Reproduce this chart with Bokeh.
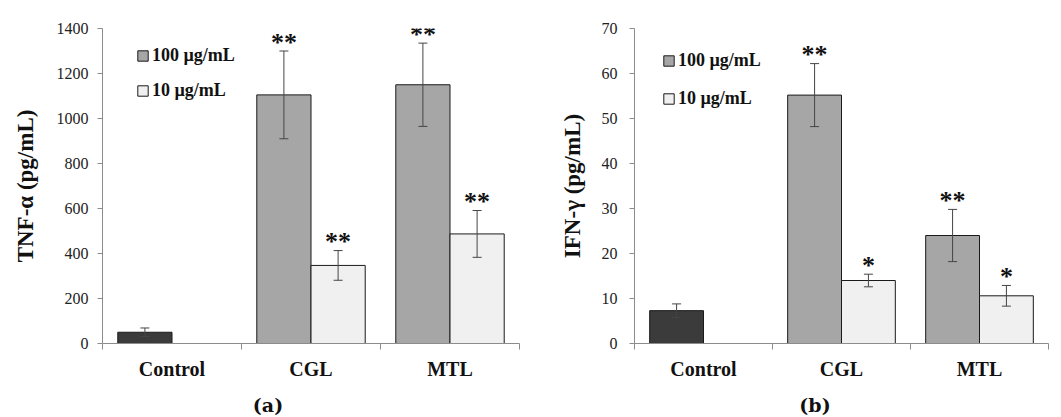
from bokeh.plotting import figure
from bokeh.models import (ColumnDataSource, Range1d, LinearAxis, FixedTicker, Whisker, TeeHead,
                          Legend, LegendItem, Div, Spacer)
from bokeh.core.properties import value
from bokeh.layouts import row, column
from bokeh.embed import file_html
from bokeh.resources import INLINE

# ---------------- data ----------------
categories = ["Control", "CGL", "MTL"]
treated = ["CGL", "MTL"]
series_labels = ["100 \u00b5g/mL", "10 \u00b5g/mL"]

tnf_control = [50]
tnf_control_err = [19]
tnf_100 = [1105, 1150]
tnf_100_err = [195, 185]
tnf_10 = [347, 487]
tnf_10_err = [66, 104]
tnf_100_sig = ["**", "**"]
tnf_10_sig = ["**", "**"]
tnf_ticks = [0, 200, 400, 600, 800, 1000, 1200, 1400]

ifn_control = [7.3]
ifn_control_err = [1.5]
ifn_100 = [55.2, 24.0]
ifn_100_err = [7.0, 5.8]
ifn_10 = [14.0, 10.6]
ifn_10_err = [1.4, 2.3]
ifn_100_sig = ["**", "**"]
ifn_10_sig = ["*", "*"]
ifn_ticks = [0, 10, 20, 30, 40, 50, 60, 70]

captions = ["(a)", "(b)"]

SERIF = "Liberation Serif"
AXIS_GRAY = "#8c8c8c"
BAR_W = 0.39
OFF = 0.195
cat_index = {c: i for i, c in enumerate(categories)}


def src(cats, vals, errs, off, sig=None):
    d = dict(cat=cats, x=[cat_index[c] + 0.5 + off for c in cats], val=vals,
             upper=[v + e for v, e in zip(vals, errs)],
             lower=[v - e for v, e in zip(vals, errs)])
    d["sig"] = sig if sig is not None else [""] * len(cats)
    return ColumnDataSource(d)


def panel(width, height, borders, ymax, ticks, ylabel, ylabel_standoff, tick_standoff,
          ctrl, ctrl_err, v100, e100, s100, v10, e10, s10,
          legend_xy, legend_spacing):
    bl, br, bt, bb = borders
    p = figure(width=width, height=height, x_range=Range1d(0, len(categories)),
               y_range=Range1d(0, ymax),
               output_backend="svg", toolbar_location=None, tools="",
               x_axis_location=None, y_axis_location=None,
               min_border_left=bl, min_border_right=br, min_border_top=bt, min_border_bottom=bb)
    p.outline_line_color = None
    p.xgrid.visible = False
    p.ygrid.visible = False
    p.background_fill_color = "white"
    p.border_fill_color = "white"

    # y axis
    yax = LinearAxis(ticker=FixedTicker(ticks=ticks), axis_label=ylabel)
    yax.axis_line_color = AXIS_GRAY
    yax.major_tick_line_color = AXIS_GRAY
    yax.major_tick_out = 5
    yax.major_tick_in = 0
    yax.minor_tick_line_color = None
    yax.major_label_text_font = SERIF
    yax.major_label_text_font_size = "16px"
    yax.major_label_text_color = "#222222"
    yax.major_label_standoff = tick_standoff
    yax.axis_label_text_font = SERIF
    yax.axis_label_text_font_style = "bold"
    yax.axis_label_text_font_size = "23px"
    yax.axis_label_text_color = "#111111"
    yax.axis_label_standoff = ylabel_standoff
    p.add_layout(yax, "left")

    # x axis: labels at category centres, ticks at category boundaries
    centers = [i + 0.5 for i in range(len(categories))]
    bounds = list(range(len(categories) + 1))
    cax = LinearAxis(ticker=FixedTicker(ticks=centers, minor_ticks=bounds),
                     major_label_overrides={c: n for c, n in zip(centers, categories)})
    cax.axis_line_color = AXIS_GRAY
    cax.major_tick_line_color = None
    cax.major_tick_out = 0
    cax.major_tick_in = 0
    cax.minor_tick_line_color = AXIS_GRAY
    cax.minor_tick_out = 6
    cax.minor_tick_in = 0
    cax.major_label_text_font = SERIF
    cax.major_label_text_font_style = "bold"
    cax.major_label_text_font_size = "20px"
    cax.major_label_text_color = "#111111"
    cax.major_label_standoff = 8
    p.add_layout(cax, "below")

    sc = src(["Control"], ctrl, ctrl_err, -OFF)
    s1 = src(treated, v100, e100, -OFF, s100)
    s2 = src(treated, v10, e10, OFF, s10)

    p.vbar(x="x", top="val", width=BAR_W, source=sc,
           fill_color="#3b3b3b", line_color="#1a1a1a", line_width=1)
    r1 = p.vbar(x="x", top="val", width=BAR_W, source=s1,
                fill_color="#a6a6a6", line_color="#1a1a1a", line_width=1)
    r2 = p.vbar(x="x", top="val", width=BAR_W, source=s2,
                fill_color="#f0f0f0", line_color="#1a1a1a", line_width=1)

    for s in (sc, s1, s2):
        w = Whisker(source=s, base="x", upper="upper", lower="lower", level="annotation",
                    line_color="#454545", line_width=1,
                    upper_head=TeeHead(size=9, line_color="#454545", line_width=1),
                    lower_head=TeeHead(size=9, line_color="#454545", line_width=1))
        p.add_layout(w)

    for s in (s1, s2):
        p.text(x="x", y="upper", text="sig", source=s,
               text_align="center", text_baseline="alphabetic", y_offset=-9,
               text_font=value(SERIF), text_font_style="bold", text_font_size="26px",
               text_color="#111111")

    legend = Legend(items=[LegendItem(label=series_labels[0], renderers=[r1]),
                           LegendItem(label=series_labels[1], renderers=[r2])],
                    location=legend_xy, orientation="vertical")
    legend.glyph_width = 13
    legend.glyph_height = 13
    legend.label_height = 20
    legend.label_standoff = 3
    legend.spacing = legend_spacing
    legend.padding = 0
    legend.margin = 0
    legend.border_line_color = None
    legend.background_fill_alpha = 0
    legend.label_text_font = SERIF
    legend.label_text_font_style = "bold"
    legend.label_text_font_size = "18px"
    legend.label_text_color = "#111111"
    p.add_layout(legend)
    return p


pa = panel(534, 390, (102, 15, 28, 46), 1400, tnf_ticks, "TNF-\u03b1 (pg/mL)", 16, 9,
           tnf_control, tnf_control_err, tnf_100, tnf_100_err, tnf_100_sig,
           tnf_10, tnf_10_err, tnf_10_sig, (34, 242), 14)
pb = panel(519, 390, (100, 5, 23, 47), 70, ifn_ticks, "IFN-\u03b3 (pg/mL)", 14, 12,
           ifn_control, ifn_control_err, ifn_100, ifn_100_err, ifn_100_sig,
           ifn_10, ifn_10_err, ifn_10_sig, (28, 234), 17)


def caption_div(text, width):
    return Div(text=text, width=width, height=25,
               styles={"text-align": "center", "font-family": "DejaVu Serif",
                       "font-weight": "bold", "font-size": "19px", "color": "#111111",
                       "line-height": "20px"})


da = caption_div(captions[0], 526)
db = caption_div(captions[1], 480)

layout = column(row(pa, pb, spacing=0),
                row(da, Spacer(width=34, height=25), db, spacing=0), spacing=0)
open("out.html", "w").write(file_html(layout, INLINE))
